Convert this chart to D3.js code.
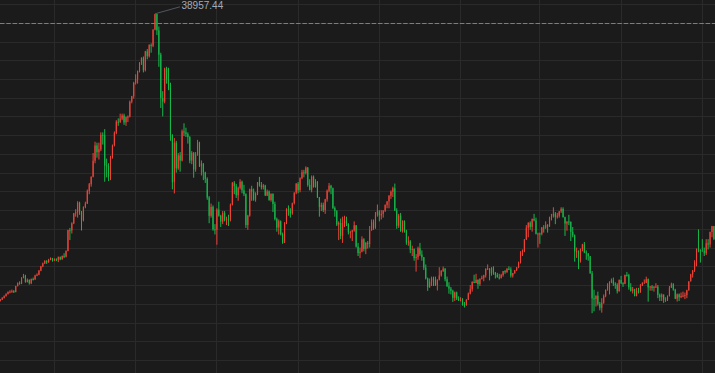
<!DOCTYPE html>
<html><head><meta charset="utf-8">
<script src="https://cdn.jsdelivr.net/npm/d3@7"></script>
<style>html,body{margin:0;padding:0;background:#1b1b1b;overflow:hidden}svg{display:block}</style>
</head><body><svg id="c" width="715" height="373"></svg>
<script>
// Monthly candles, Apr 1983 .. Jan 2014
const firstMonth = "1983-04", lastMonth = "2014-01";
const opens = [
8300,8449,8620,8811,9040,9268,9304,9349,9253,
9893,10196,10135,10796,10996,10325,10553,10197,10635,10617,11019,11104,
11542,11993,12321,12580,12426,12712,12882,12612,12737,12700,12976,12750,
13113,13024,13641,15859,15826,16592,17655,17773,18788,17853,16911,18324,
18701,20048,20766,21567,23275,24902,24176,24488,26029,26011,22765,22687,
21564,23622,24903,26260,27434,27417,27769,28104,27366,27924,27983,29579,
30159,31581,31986,32839,33713,34267,32949,34954,34431,35637,35549,37269,
38916,37189,34592,29980,29585,33131,31940,31036,25978,20984,25194,22455,
23849,23293,26409,26292,26111,25790,23291,24121,22336,23916,25222,22687,
22984,22023,21339,19346,17391,18348,15952,15910,18061,17399,16767,17684,
16925,17024,16953,18591,20919,20552,19590,20380,21027,20106,19704,16408,
17417,20229,19997,19112,19725,20974,20644,20449,20629,19564,19990,19076,
19723,18650,17053,16140,16807,15437,14517,16678,18117,17913,17655,18744,
19868,20813,20125,21407,22041,21956,22531,20693,20167,21556,20467,21020,
19361,18330,18557,18003,19151,20069,20605,20331,18229,17888,16459,16633,
15259,16629,16832,16527,15641,15671,15830,16379,14108,13406,13565,14884,
13842,14499,14368,15837,16702,16112,17530,17862,17437,17605,17942,18558,
18934,19540,19960,20337,17974,16332,17411,15727,16861,15747,14540,14649,
13786,13844,12884,12999,13934,13262,12969,11861,10713,9775,10366,10697,
10543,9998,10588,11025,11493,11764,10622,9878,9619,9383,8640,9216,
8579,8340,8363,7973,7831,8425,9083,9563,10344,10219,10560,10101,
10677,10784,11042,11715,11762,11236,11859,11326,11082,10824,10771,11069,
11489,11388,11741,11669,11009,11277,11584,11900,12414,13574,13607,14872,
16111,16650,16206,17060,16906,15468,15505,15457,16141,16128,16399,16274,
17226,17383,17604,17288,17400,17876,18138,17249,16570,16786,16737,15681,
15308,13592,13603,12526,13850,14339,13482,13377,13073,11260,8577,8512,
8860,7994,7568,8110,8828,9523,9958,10357,10493,10133,10035,9346,
10546,10198,10126,11090,11057,9769,9383,9537,8824,9369,9202,9937,
10229,10238,10624,9755,9850,9694,9816,9833,8955,8700,8988,8435,
8455,8803,9723,10084,9521,8543,9007,8695,8840,8870,8928,9446,
10395,11139,11559,12398,13861,13775,13677,13668,13389,14456,14328,15662,
16291];
const highs = [
8520,8720,8900,9130,9320,9450,9520,9460,9920,
10280,10400,10830,11190,11100,10700,10600,10700,10800,11100,11250,11600,
12050,12400,12650,12650,12800,12950,12900,12850,12850,13050,13050,13150,
13400,13700,15900,16100,16700,17700,18100,18950,18900,17900,18400,18900,
20200,20900,21600,24100,25300,25200,25200,26300,26300,26646,23500,23000,
23800,25000,26400,27600,27800,28300,28300,28300,28000,28100,29700,30200,
31700,32500,32900,33800,34300,34400,35000,35200,35700,35800,37300,38957.44,
38950,37600,34800,30700,33200,33300,33200,31600,26100,25700,25400,24100,
24200,26600,27270,26800,26300,25900,24300,24200,24200,25500,25300,23300,
23000,22100,21500,19500,18700,18500,16500,18200,18900,17500,17900,17900,
17300,17500,18700,21000,21100,20800,20500,21300,21148,20700,19800,17500,
20300,20600,20300,19900,21000,21552,21000,20800,20700,20200,20100,19800,
19800,18900,17200,17000,16900,15600,16700,18200,18500,18200,18800,19900,
20900,21000,21500,22300,22300,22666,22600,21300,21700,21700,21300,21100,
19400,18800,18800,19200,20200,20900,20700,20400,18400,18000,16800,17100,
17300,17400,17300,16600,15800,15900,16800,16400,14500,14000,15200,15000,
14600,14700,16300,17000,17000,17800,18600,18000,18000,18000,18600,18950,
19600,20100,20500,20833,18200,17600,17700,16900,16900,15900,15200,14800,
14200,13900,13300,14100,14500,13700,13000,12200,10800,10700,10900,10900,
10900,10600,11900,11600,11979,11800,10900,10300,9800,9500,9300,9300,
8800,8700,8600,8200,8500,9200,10000,10400,11100,11200,10600,10700,
11000,11100,11800,12200,11800,11900,12000,11400,11300,11200,11200,11500,
11600,11800,12000,11900,11300,11600,11900,12500,13600,13800,14900,16400,
16700,16800,17100,17600,17200,15600,15600,16200,16400,16800,16500,17300,
17600,18300,17800,17700,17900,18300,18295,17300,16800,17500,16800,16200,
15400,14000,13700,13900,14400,14600,13700,13400,13100,11500,9500,8900,
9300,8200,8600,9000,9500,10200,10400,10700,10800,10300,10200,10600,
10980,10300,11100,11400,11200,10200,9800,9600,9700,9700,10100,10300,
10600,10900,10700,9900,10000,9900,10200,10000,9100,9100,9000,8700,
8900,9900,10255,10200,9600,9100,9100,9200,9300,9200,9500,10400,
11200,11600,12650,13900,15942,13800,14900,14000,14900,14900,15700,16320,
16300];
const lows = [
8250,8400,8560,8780,8990,9120,9180,9150,9230,
9850,10050,10100,10720,10250,10280,10050,10100,10500,10550,10950,11050,
11480,11900,12250,12250,12380,12650,12500,12550,12550,12450,12650,12700,
12880,12950,13600,14800,15500,16500,17300,17200,17500,15820,16800,18200,
18650,19700,20500,21500,23000,23600,23400,24300,25000,21036,21500,21100,
21200,23500,24800,26100,27000,27300,27600,27100,27000,27400,27900,29400,
29900,31400,31500,32700,33500,32700,32800,34100,34300,34800,35400,37200,
36700,33300,28900,28000,29400,31500,30800,25400,20221,19781,22000,22300,
22100,23200,25900,25800,25100,23000,22900,21456,22100,23800,22600,21700,
21200,20900,19100,16600,17200,15800,15400,14309,17300,16200,16500,16800,
16400,16300,16800,18500,19700,19300,19000,20200,19800,19500,16100,15900,
17300,19000,19000,18900,19600,20500,20200,20200,19500,19500,19000,18900,
17800,16900,15700,15400,15300,14400,14485,16500,17400,17200,17500,18600,
19700,19800,19900,21300,21500,21800,20500,20100,19900,20400,20400,19300,
17300,17900,17800,17600,18900,19900,19700,18100,17300,16300,14800,14900,
14500,16200,16300,15400,15000,14700,15700,14000,13100,12879,13500,13600,
13300,13900,14000,15800,15900,16000,17300,16800,17000,17200,17800,18200,
18200,19200,19400,17900,16000,16100,15700,15600,15600,14300,14200,13400,
13100,12600,11433,12700,13100,12600,11600,10600,9382,9700,9900,9900,
9900,9420,10500,10900,11400,10400,9800,9075,9000,8197,8300,8400,
8300,8300,7800,7603,7800,8400,9000,9300,10200,10200,9600,9900,
10600,10400,10800,11600,10500,11000,11100,10700,10800,10600,10700,10900,
11200,11300,11600,10800,10800,11200,11500,11800,12300,13100,13500,14800,
15100,15900,15700,16800,15400,14000,14400,15300,15600,16000,15600,16200,
16900,17200,16500,17100,17200,17700,17200,15250,15800,16400,14700,15100,
12500,12900,11700,12400,13600,13400,12700,12600,11200,6995,7200,7700,
7800,7300,7054,8000,8700,9400,9000,10200,9900,9600,9100,9300,
10100,9800,10100,10900,9500,9300,9100,8800,8800,9100,9200,9900,
10200,10200,8227,9400,9400,9300,9700,8600,8300,8300,8100,8200,
8300,8800,9700,9400,8500,8238,8300,8600,8700,8500,8600,9400,
10390,10800,11400,12000,13500,12400,13600,13100,13200,13800,14000,15100,
14800];
const closes = [
8449,8620,8811,9040,9268,9304,9349,9253,9893,
10196,10135,10796,10996,10325,10553,10197,10635,10617,11019,11104,11542,
11993,12321,12580,12426,12712,12882,12612,12737,12700,12976,12750,13113,
13024,13641,15859,15826,16592,17655,17773,18788,17853,16911,18324,18701,
20048,20766,21567,23275,24902,24176,24488,26029,26011,22765,22687,21564,
23622,24903,26260,27434,27417,27769,28104,27366,27924,27983,29579,30159,
31581,31986,32839,33713,34267,32949,34954,34431,35637,35549,37269,38916,
37189,34592,29980,29585,33131,31940,31036,25978,20984,25194,22455,23849,
23293,26409,26292,26111,25790,23291,24121,22336,23916,25222,22687,22984,
22023,21339,19346,17391,18348,15952,15910,18061,17399,16767,17684,16925,
17024,16953,18591,20919,20552,19590,20380,21027,20106,19704,16408,17417,
20229,19997,19112,19725,20974,20644,20449,20629,19564,19990,19076,19723,
18650,17053,16140,16807,15437,14517,16678,18117,17913,17655,18744,19868,
20813,20125,21407,22041,21956,22531,20693,20167,21556,20467,21020,19361,
18330,18557,18003,19151,20069,20605,20331,18229,17888,16459,16633,15259,
16629,16832,16527,15641,15671,15830,16379,14108,13406,13565,14884,13842,
14499,14368,15837,16702,16112,17530,17862,17437,17605,17942,18558,18934,
19540,19960,20337,17974,16332,17411,15727,16861,15747,14540,14649,13786,
13844,12884,12999,13934,13262,12969,11861,10713,9775,10366,10697,10543,
9998,10588,11025,11493,11764,10622,9878,9619,9383,8640,9216,8579,
8340,8363,7973,7831,8425,9083,9563,10344,10219,10560,10101,10677,
10784,11042,11715,11762,11236,11859,11326,11082,10824,10771,11069,11489,
11388,11741,11669,11009,11277,11584,11900,12414,13574,13607,14872,16111,
16650,16206,17060,16906,15468,15505,15457,16141,16128,16399,16274,17226,
17383,17604,17288,17400,17876,18138,17249,16570,16786,16737,15681,15308,
13592,13603,12526,13850,14339,13482,13377,13073,11260,8577,8512,8860,
7994,7568,8110,8828,9523,9958,10357,10493,10133,10035,9346,10546,
10198,10126,11090,11057,9769,9383,9537,8824,9369,9202,9937,10229,
10238,10624,9755,9850,9694,9816,9833,8955,8700,8988,8435,8455,
8803,9723,10084,9521,8543,9007,8695,8840,8870,8928,9446,10395,
11139,11559,12398,13861,13775,13677,13668,13389,14456,14328,15662,16291,
14915];
const gridMonths = ["1985-08","1989-02","1992-08","1996-02","1999-08","2003-02","2006-07","2010-01","2013-07"];
const priceTicks = [2000,4000,6000,8000,10000,12000,14000,16000,18000,20000,22000,24000,26000,28000,30000,32000,34000,36000,38000,40000];
const refLevel = 38000;
const peakLabel = "38957.44";

const fmt = d3.timeFormat("%Y-%m"), parse = d3.timeParse("%Y-%m");
const months = d3.timeMonth.range(parse(firstMonth), d3.timeMonth.offset(parse(lastMonth),1)).map(fmt);
const n = Math.min(months.length, opens.length, highs.length, lows.length, closes.length);
const data = d3.range(n).map(i => ({m: months[i], o: opens[i], h: highs[i], l: lows[i], c: closes[i]}));

const W = 715, H = 373;
const svg = d3.select("#c");
svg.append("rect").attr("width", W).attr("height", H).attr("fill", "#1b1b1b");

const x = d3.scaleBand().domain(data.map(d => d.m)).range([-1.1, 715.3]).paddingInner(0.42).paddingOuter(0.42);
const y = d3.scaleLinear().domain([2000, 38957.44]).range([360, 13.8]);
const cx = m => x(m) + x.bandwidth() / 2;

const g = svg.append("g");
g.selectAll("line.h").data(priceTicks).join("line").attr("class","h")
  .attr("x1", 0).attr("x2", W)
  .attr("y1", d => Math.round(y(d)) + 0.5).attr("y2", d => Math.round(y(d)) + 0.5)
  .attr("stroke", "#2a2a2a").attr("stroke-width", 1);
g.selectAll("line.v").data(gridMonths).join("line").attr("class","v")
  .attr("y1", 0).attr("y2", H)
  .attr("x1", d => Math.floor(cx(d)) + 0.5).attr("x2", d => Math.floor(cx(d)) + 0.5)
  .attr("stroke", "#2a2a2a").attr("stroke-width", 1);

svg.append("line").attr("x1", 0).attr("x2", W)
  .attr("y1", Math.round(y(refLevel)) + 0.5).attr("y2", Math.round(y(refLevel)) + 0.5)
  .attr("stroke", "#c4682c").attr("stroke-width", 1).attr("stroke-dasharray", "4.5,1.8");

const up = "#ee4338", down = "#17b84b";
const cg = svg.append("g");
cg.selectAll("line").data(data).join("line")
  .attr("x1", d => cx(d.m)).attr("x2", d => cx(d.m))
  .attr("y1", d => y(d.h)).attr("y2", d => y(d.l))
  .attr("stroke", d => d.c >= d.o ? up : down).attr("stroke-width", 1);
cg.selectAll("rect").data(data).join("rect")
  .attr("x", d => x(d.m)).attr("width", x.bandwidth())
  .attr("y", d => y(Math.max(d.o, d.c)))
  .attr("height", d => Math.max(1, Math.abs(y(d.o) - y(d.c))))
  .attr("fill", d => d.c >= d.o ? up : down);

// peak annotation
const peak = data.reduce((a, b) => b.h > a.h ? b : a);
const px = cx(peak.m), py = y(peak.h);
svg.append("line").attr("x1", px).attr("y1", py).attr("x2", px + 25).attr("y2", py - 7)
  .attr("stroke", "#5f646e").attr("stroke-width", 0.8);
svg.append("text").attr("x", px + 26.5).attr("y", py - 4.5)
  .attr("fill", "#a3aab8").attr("font-family", "'Liberation Sans', Arial, sans-serif")
  .attr("font-size", 10).text(peakLabel);
</script></body></html>
